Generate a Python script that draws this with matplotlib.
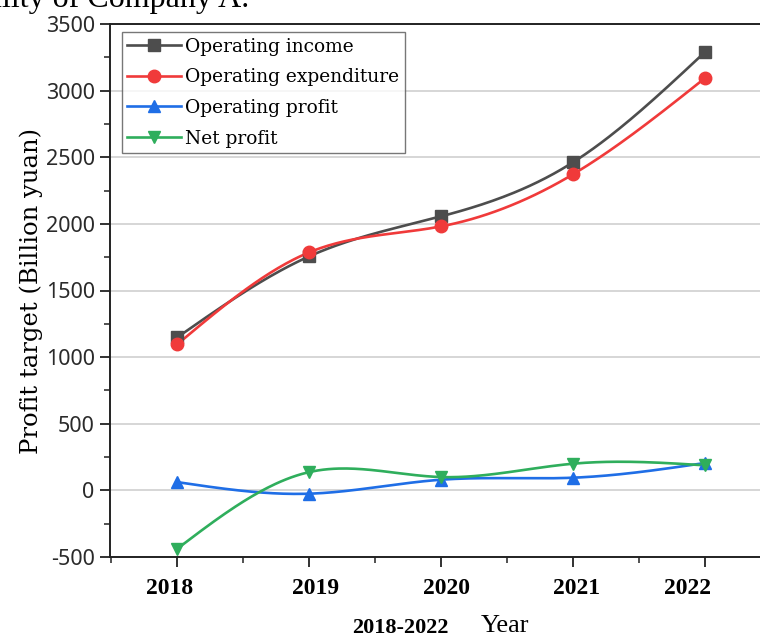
import numpy as np
import matplotlib
matplotlib.use("Agg")
import matplotlib.pyplot as plt
import matplotlib.transforms as mtransforms
from matplotlib.ticker import MultipleLocator

plt.rcParams["axes.unicode_minus"] = False

years = [2018, 2019, 2020, 2021, 2022]
operating_income = [1148, 1756, 2056, 2461, 3287]
operating_expenditure = [1096, 1786, 1981, 2371, 3092]
operating_profit = [62, -25, 80, 95, 205]
net_profit = [-438, 137, 100, 200, 188]

series_names = ["Operating income", "Operating expenditure", "Operating profit", "Net profit"]
colors = ["#4d4d4d", "#f03a3a", "#1f6ee6", "#2fae5c"]
markers = ["s", "o", "^", "v"]


def natural_spline(x, y, n=200):
    x = np.asarray(x, float)
    y = np.asarray(y, float)
    k = len(x)
    h = np.diff(x)
    A = np.zeros((k, k))
    b = np.zeros(k)
    A[0, 0] = 1
    A[-1, -1] = 1
    for i in range(1, k - 1):
        A[i, i - 1] = h[i - 1]
        A[i, i] = 2 * (h[i - 1] + h[i])
        A[i, i + 1] = h[i]
        b[i] = 6 * ((y[i + 1] - y[i]) / h[i] - (y[i] - y[i - 1]) / h[i - 1])
    M = np.linalg.solve(A, b)
    xs = np.linspace(x[0], x[-1], n)
    ys = np.empty_like(xs)
    for j, xv in enumerate(xs):
        i = min(np.searchsorted(x, xv) - 1, k - 2)
        i = max(i, 0)
        t1 = x[i + 1] - xv
        t0 = xv - x[i]
        ys[j] = (M[i] * t1 ** 3 / (6 * h[i]) + M[i + 1] * t0 ** 3 / (6 * h[i])
                 + (y[i] / h[i] - M[i] * h[i] / 6) * t1
                 + (y[i + 1] / h[i] - M[i + 1] * h[i] / 6) * t0)
    return xs, ys


fig = plt.figure(figsize=(7.6, 6.37), dpi=100)
ax = fig.add_axes([110 / 760, 1 - 557 / 637, 650 / 760, 533 / 637])

data = [operating_income, operating_expenditure, operating_profit, net_profit]
for vals, name, c, m in zip(data, series_names, colors, markers):
    xs, ys = natural_spline(years, vals)
    ax.plot(xs, ys, color=c, lw=1.9, zorder=3)
    ax.plot(years, vals, linestyle="none", marker=m, color=c, markersize=9, zorder=4)
    ax.plot([], [], color=c, lw=1.9, marker=m, markersize=9, label=name)

ax.set_xlim(2017.49, 2022.42)
ax.set_ylim(-500, 3500)
ax.yaxis.set_major_locator(MultipleLocator(500))
ax.yaxis.set_minor_locator(MultipleLocator(250))
ax.set_xticks(years)
ax.xaxis.set_minor_locator(MultipleLocator(0.5))
ax.grid(axis="y", which="major", color="#cfcfcf", lw=1.2)
ax.set_axisbelow(True)

ax.spines["right"].set_visible(False)
for s in ["left", "bottom", "top"]:
    ax.spines[s].set_linewidth(1.4)
    ax.spines[s].set_color("#222222")

ax.tick_params(axis="both", which="major", direction="out", length=7, width=1.3, color="#222222")
ax.tick_params(axis="both", which="minor", direction="out", length=4, width=1.1, color="#222222")
ax.tick_params(axis="y", labelcolor="#2a2a2a", pad=4)
ax.tick_params(axis="x", pad=8)
for lab in ax.get_yticklabels():
    lab.set_fontfamily("Noto Sans")
    lab.set_fontsize(15.5)
label_dx = [-8, 6, 6, 4, -17]
for lab, dx in zip(ax.get_xticklabels(), label_dx):
    lab.set_fontfamily("Liberation Serif")
    lab.set_fontweight("bold")
    lab.set_fontsize(17)
    lab.set_transform(lab.get_transform() + mtransforms.ScaledTranslation(dx / 100, 0, fig.dpi_scale_trans))

ax.set_ylabel("Profit target (Billion yuan)", fontfamily="DejaVu Serif", fontsize=17.5, labelpad=2)

leg = ax.legend(loc="upper left", bbox_to_anchor=(0.018, 0.985), borderaxespad=0,
                prop={"family": "DejaVu Serif", "size": 13.4}, frameon=True, fancybox=False,
                edgecolor="#555555", handlelength=2.9, handletextpad=0.2, labelspacing=0.68,
                borderpad=0.3)
leg.get_frame().set_linewidth(1.0)

fig.text(400 / 760, 1 - 633 / 637, "2018-2022", fontfamily="Liberation Serif", fontweight="bold",
         fontsize=16, ha="center", va="baseline")
fig.text(505 / 760, 1 - 632 / 637, "Year", fontfamily="Liberation Serif", fontsize=19,
         ha="center", va="baseline")
fig.text(249 / 760, 1 - 7 / 637, "Profitability of Company A.", fontfamily="Liberation Serif",
         fontsize=23, ha="right", va="baseline")

fig.savefig("out.png", dpi=100)
